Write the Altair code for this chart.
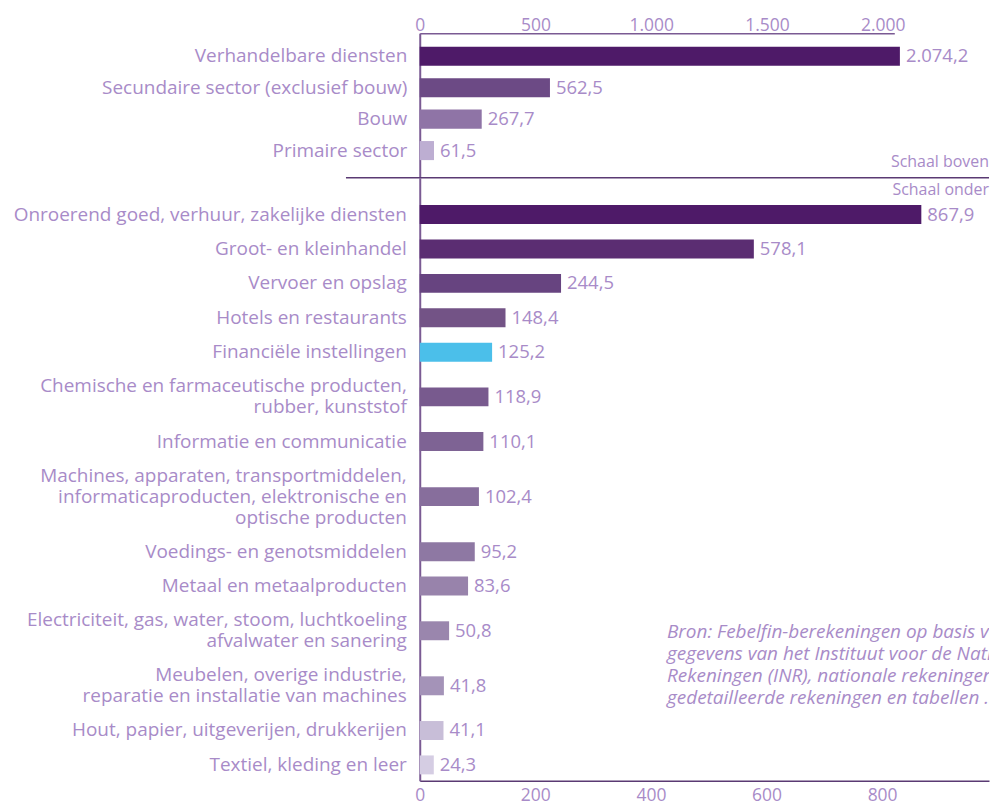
import altair as alt
import pandas as pd

# ---------------- data ----------------
top_cats = [
    "Verhandelbare diensten",
    "Secundaire sector (exclusief bouw)",
    "Bouw",
    "Primaire sector",
]
top_vals = [2074.2, 562.5, 267.7, 61.5]
top_colors = ["#4e1a68", "#6c4a85", "#8f74a6", "#bdaed2"]

bottom_cats = [
    "Onroerend goed, verhuur, zakelijke diensten",
    "Groot- en kleinhandel",
    "Vervoer en opslag",
    "Hotels en restaurants",
    "Financiële instellingen",
    "Chemische en farmaceutische producten,|rubber, kunststof",
    "Informatie en communicatie",
    "Machines, apparaten, transportmiddelen,|informaticaproducten, elektronische en|optische producten",
    "Voedings- en genotsmiddelen",
    "Metaal en metaalproducten",
    "Electriciteit, gas, water, stoom, luchtkoeling|afvalwater en sanering",
    "Meubelen, overige industrie,|reparatie en installatie van machines",
    "Hout, papier, uitgeverijen, drukkerijen",
    "Textiel, kleding en leer",
]
bottom_vals = [867.9, 578.1, 244.5, 148.4, 125.2, 118.9, 110.1, 102.4, 95.2, 83.6, 50.8, 41.8, 41.1, 24.3]
bottom_colors = ["#4e1a68", "#5b2d72", "#674480", "#735386", "#4bbfea", "#785a8e",
                 "#7e6394", "#876e9c", "#8e78a3", "#9883ab", "#9a86ad", "#a493b8",
                 "#c8bed8", "#d5cde3"]

top_ticks = [0, 500, 1000, 1500, 2000]
bottom_ticks = [0, 200, 400, 600, 800]

source_lines = [
    "Bron:  Febelfin-berekeningen op basis van",
    "gegevens van het Instituut voor de Nationale",
    "Rekeningen (INR), nationale rekeningen,",
    "gedetailleerde rekeningen en tabellen ...",
]

# ---------------- style ----------------
FONT = "Open Sans"
TXT = "#a88bc8"
AXIS = "#7a5a93"
NL_FMT = "replace(replace(replace(format(datum.value, ',.1f'), ',', '_'), '.', ','), '_', '.')"
LH = 21            # label line height
ROW_BASE = 13.8    # row height = ROW_BASE + ROW_LINE * number of label lines
ROW_LINE = 20.7
LABEL_FS = 19

top_df = pd.DataFrame({"sector": top_cats, "value": top_vals})
bot_df = pd.DataFrame({"sector": bottom_cats, "value": bottom_vals,
                       "rank": list(range(len(bottom_cats)))})
one = pd.DataFrame({"a": [0]})

# ---------- top panel ----------
top_y = alt.Y("sector:N", sort=top_cats,
              scale=alt.Scale(paddingInner=0.394, paddingOuter=0.495, align=0.435),
              axis=alt.Axis(title=None, labelLimit=0, ticks=False, labelPadding=13,
                            labelFont=FONT, labelFontSize=LABEL_FS, labelColor=TXT,
                            domainColor=AXIS, domainWidth=2))
top_x = alt.X("value:Q", scale=alt.Scale(domain=[0, 2050], nice=False),
              axis=alt.Axis(orient="top", values=top_ticks, title=None, grid=False,
                            ticks=False, labelPadding=-1, labelFlush=False,
                            labelExpr="replace(format(datum.value, ','), ',', '.')",
                            labelFont=FONT, labelFontSize=17.5, labelColor=TXT,
                            domainColor=AXIS, domainWidth=1.5))

top_bars = alt.Chart(top_df).mark_bar().encode(
    x=top_x, y=top_y,
    color=alt.Color("sector:N", scale=alt.Scale(domain=top_cats, range=top_colors), legend=None),
)
top_text = alt.Chart(top_df).transform_calculate(lbl=NL_FMT).mark_text(
    align="left", baseline="middle", dx=6, font=FONT, fontSize=18.5, color=TXT
).encode(x="value:Q", y=alt.Y("sector:N", sort=top_cats), text="lbl:N")

sep = alt.Chart(one).mark_rule(color="#5a3a73", strokeWidth=1.5).encode(
    x=alt.value(-74), x2=alt.value(571), y=alt.value(145))
schaal_boven = alt.Chart(one).mark_text(
    align="right", baseline="middle", font=FONT, fontSize=16, color=TXT
).encode(x=alt.value(571), y=alt.value(129), text=alt.value("Schaal boven"))

top = alt.layer(top_bars, top_text, sep, schaal_boven).properties(width=476, height=145)

# ---------- bottom panel ----------
# rows get a height that grows with the number of label lines
bot_base = alt.Chart(bot_df).transform_calculate(
    lines="length(split(datum.sector, '|'))",
).transform_calculate(
    h=f"{ROW_BASE} + {ROW_LINE} * datum.lines",
).transform_window(
    cum="sum(h)", sort=[alt.SortField("rank")], frame=[None, 0]
).transform_calculate(
    pos="datum.cum - datum.h / 2",
).transform_calculate(
    lpos=f"datum.pos - (datum.lines - 1) * {LH / 2}",
    lbl=NL_FMT,
)

bot_yscale = alt.Scale(domain=[-19.75, 585.25], reverse=True, nice=False, zero=False, padding=0)
bot_x = alt.X("value:Q", scale=alt.Scale(domain=[0, 985], nice=False, padding=0),
              axis=alt.Axis(orient="bottom", values=bottom_ticks, title=None, grid=False,
                            ticks=False, labelPadding=6, labelFlush=False,
                            labelFont=FONT, labelFontSize=17.5, labelColor=TXT,
                            domainColor="#5a3a73", domainWidth=1.5))

bot_bars = bot_base.mark_bar(orient="horizontal", height=19).encode(
    x=bot_x,
    y=alt.Y("pos:Q", scale=bot_yscale,
            axis=alt.Axis(title=None, labels=False, ticks=False, grid=False,
                          domainColor=AXIS, domainWidth=2)),
    color=alt.Color("sector:N", scale=alt.Scale(domain=bottom_cats, range=bottom_colors), legend=None),
)
bot_text = bot_base.mark_text(
    align="left", baseline="middle", dx=6, font=FONT, fontSize=18.5, color=TXT
).encode(x="value:Q", y=alt.Y("pos:Q", scale=bot_yscale), text="lbl:N")

bot_labels = bot_base.mark_text(
    align="right", baseline="middle", font=FONT, fontSize=LABEL_FS, color=TXT,
    lineBreak="|", lineHeight=LH
).encode(x=alt.value(-13), y=alt.Y("lpos:Q", scale=bot_yscale), text="sector:N")

schaal_onder = alt.Chart(one).mark_text(
    align="right", baseline="middle", font=FONT, fontSize=16, color=TXT
).encode(x=alt.value(571), y=alt.value(12), text=alt.value("Schaal onder"))

bron = alt.Chart(one).mark_text(
    align="left", baseline="top", font=FONT, fontSize=19, fontStyle="italic",
    color=TXT, lineBreak="\n", lineHeight=22, clip=True
).encode(x=alt.value(248), y=alt.value(447), text=alt.value("\n".join(source_lines)))

bottom = alt.layer(bot_bars, bot_text, bot_labels, schaal_onder, bron).properties(
    width=571, height=605)

chart = alt.vconcat(top, bottom, spacing=0, bounds="flush").properties(
    padding={"left": 5, "top": 7, "right": 0, "bottom": 0}
).configure_view(stroke=None).resolve_scale(color="independent", x="independent", y="independent")

chart.save("out.html", embed_options={"renderer": "svg", "actions": False})
